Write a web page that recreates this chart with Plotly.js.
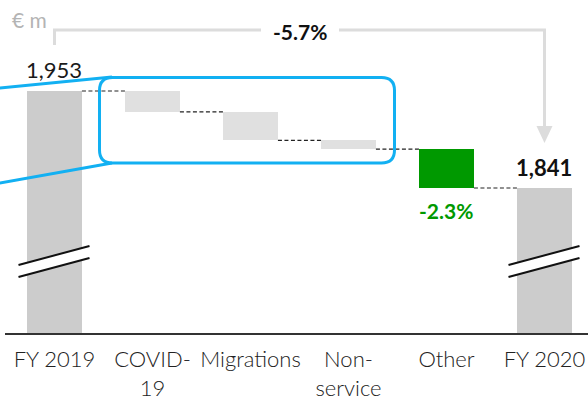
<!DOCTYPE html>
<html><head><meta charset="utf-8">
<script src="https://cdn.plot.ly/plotly-3.0.1.min.js"></script>
<style>html,body{margin:0;padding:0;background:#fff}#chart{width:588px;height:400px}</style>
</head><body><div id="chart"></div>
<script>
// ---- data ----
const categories = ['FY 2019', 'COVID-19', 'Migrations', 'Non-service', 'Other', 'FY 2020'];
const tickLabels = ['FY 2019', 'COVID-<br>19', 'Migrations', 'Non-<br>service', 'Other', 'FY 2020'];
const startValue = 1953;
const changes = [-24, -33, -10, -45];   // COVID-19, Migrations, Non-service, Other
const endValue = 1841;
const startLabel = '1,953';
const endLabel = '1,841';
const otherPct = '-2.3%';
const totalPct = '-5.7%';
const unitLabel = '€ m';

// ---- layout geometry ----
const W = 588, H = 400, ML = 5, MT = 0, MB = 67;
const PW = W - ML, PH = H - MT - MB;
const xr = [-0.505, 5.444];
const yr = [1673.6, 2058.1];
const BW = 0.56;
const px = x => (x - ML) / PW;                 // pixel -> paper x
const py = y => (MT + PH - y) / PH;            // pixel -> paper y
const xpix = v => ML + (v - xr[0]) / (xr[1] - xr[0]) * PW;

// ---- build bars ----
const xs = [], ys = [], bases = [], colors = [], levels = [];
xs.push(0); ys.push(startValue); bases.push(0); colors.push('#cccccc');
let run = startValue; levels.push(run);
changes.forEach((c, i) => {
  const nb = run + c;
  xs.push(i + 1); ys.push(Math.abs(c)); bases.push(Math.min(run, nb));
  colors.push(i === changes.length - 1 ? '#009900' : '#e0e0e0');
  run = nb; levels.push(run);
});
xs.push(5); ys.push(endValue); bases.push(0); colors.push('#cccccc');

const trace = {
  type: 'bar', x: xs, y: ys, base: bases, width: BW,
  marker: {color: colors, line: {width: 0}}, hoverinfo: 'skip'
};

const shapes = [];
// connectors
levels.forEach((lv, i) => {
  shapes.push({type: 'line', xref: 'x', yref: 'y', x0: i + BW / 2, x1: i + 1 - BW / 2, y0: lv, y1: lv,
    line: {color: '#222', width: 1.2, dash: '4px,2.5px'}});
});
// break marks
[0, 5].forEach(i => {
  const cx = xpix(i);
  const xl = px(cx - 36), xR = px(cx + 35);
  shapes.push({type: 'path', xref: 'paper', yref: 'paper',
    path: `M${xl},${py(265)} L${xR},${py(246)} L${xR},${py(258)} L${xl},${py(277)} Z`,
    fillcolor: '#ffffff', line: {width: 0}});
  shapes.push({type: 'line', xref: 'paper', yref: 'paper', x0: xl, y0: py(265), x1: xR, y1: py(246), line: {color: '#111', width: 2}});
  shapes.push({type: 'line', xref: 'paper', yref: 'paper', x0: xl, y0: py(277), x1: xR, y1: py(258), line: {color: '#111', width: 2}});
});
// arrow bracket
const gx0 = xpix(0), gx1 = xpix(5);
shapes.push({type: 'path', xref: 'paper', yref: 'paper',
  path: `M${px(gx0)},${py(45)} L${px(gx0)},${py(30)} L${px(261)},${py(30)}`,
  line: {color: '#dcdcdc', width: 3}});
shapes.push({type: 'path', xref: 'paper', yref: 'paper',
  path: `M${px(339)},${py(30)} L${px(gx1)},${py(30)} L${px(gx1)},${py(128)}`,
  line: {color: '#dcdcdc', width: 3}});
shapes.push({type: 'path', xref: 'paper', yref: 'paper',
  path: `M${px(gx1 - 8)},${py(126)} L${px(gx1 + 8)},${py(126)} L${px(gx1)},${py(143)} Z`,
  fillcolor: '#dcdcdc', line: {width: 0}});
// blue callout lines
const blue = '#12b0f2';
shapes.push({type: 'line', xref: 'paper', yref: 'paper', x0: px(-2), y0: py(88.2), x1: px(112), y1: py(77), line: {color: blue, width: 3}});
shapes.push({type: 'line', xref: 'paper', yref: 'paper', x0: px(-2), y0: py(183.4), x1: px(112), y1: py(163), line: {color: blue, width: 3}});
// blue rounded rect
(function () {
  const L = 99.5, R = 394.5, T = 77.5, B = 163, r = 13;
  const p = (x, y) => `${px(x)},${py(y)}`;
  shapes.push({type: 'path', xref: 'paper', yref: 'paper',
    path: `M${p(L + r, T)} L${p(R - r, T)} Q${p(R, T)} ${p(R, T + r)} L${p(R, B - r)} Q${p(R, B)} ${p(R - r, B)} L${p(L + r, B)} Q${p(L, B)} ${p(L, B - r)} L${p(L, T + r)} Q${p(L, T)} ${p(L + r, T)} Z`,
    line: {color: blue, width: 3}, fillcolor: 'rgba(0,0,0,0)'});
})();

const FONT = 'Lato, "Open Sans", sans-serif';
const annotations = [
  {xref: 'paper', yref: 'paper', x: px(xpix(0)), y: py(69), text: startLabel, showarrow: false,
   xanchor: 'center', yanchor: 'middle', font: {family: FONT, size: 22, color: '#1a1a1a'}},
  {xref: 'paper', yref: 'paper', x: px(xpix(5)), y: py(167), text: '<b>' + endLabel + '</b>', showarrow: false,
   xanchor: 'center', yanchor: 'middle', font: {family: FONT, size: 22, color: '#111'}},
  {xref: 'paper', yref: 'paper', x: px(xpix(4)), y: py(210), text: '<b>' + otherPct + '</b>', showarrow: false,
   xanchor: 'center', yanchor: 'middle', font: {family: FONT, size: 21, color: '#009900'}},
  {xref: 'paper', yref: 'paper', x: px(300), y: py(31), text: '<b>' + totalPct + '</b>', showarrow: false,
   xanchor: 'center', yanchor: 'middle', font: {family: FONT, size: 21, color: '#111'}},
  {xref: 'paper', yref: 'paper', x: px(10), y: py(19), text: unitLabel, showarrow: false,
   xanchor: 'left', yanchor: 'middle', font: {family: FONT, size: 21, color: '#b4b4b4'}}
];

const layout = {
  width: W, height: H, margin: {l: ML, r: 0, t: MT, b: MB, pad: 0},
  paper_bgcolor: '#fff', plot_bgcolor: '#fff', showlegend: false,
  font: {family: FONT, color: '#333'},
  xaxis: {type: 'linear', range: xr, tickmode: 'array', tickvals: [0, 1, 2, 3, 4, 5], ticktext: tickLabels,
    showgrid: false, zeroline: false, showline: true, linecolor: '#333', linewidth: 1.5, ticks: '',
    ticklabelstandoff: 6,
    tickfont: {family: FONT, size: 22, color: '#222', weight: 300}, fixedrange: true},
  yaxis: {range: yr, visible: false, showgrid: false, zeroline: false, fixedrange: true},
  shapes: shapes, annotations: annotations, bargap: 0
};
Plotly.newPlot('chart', [trace], layout, {staticPlot: true, displayModeBar: false});
</script></body></html>
